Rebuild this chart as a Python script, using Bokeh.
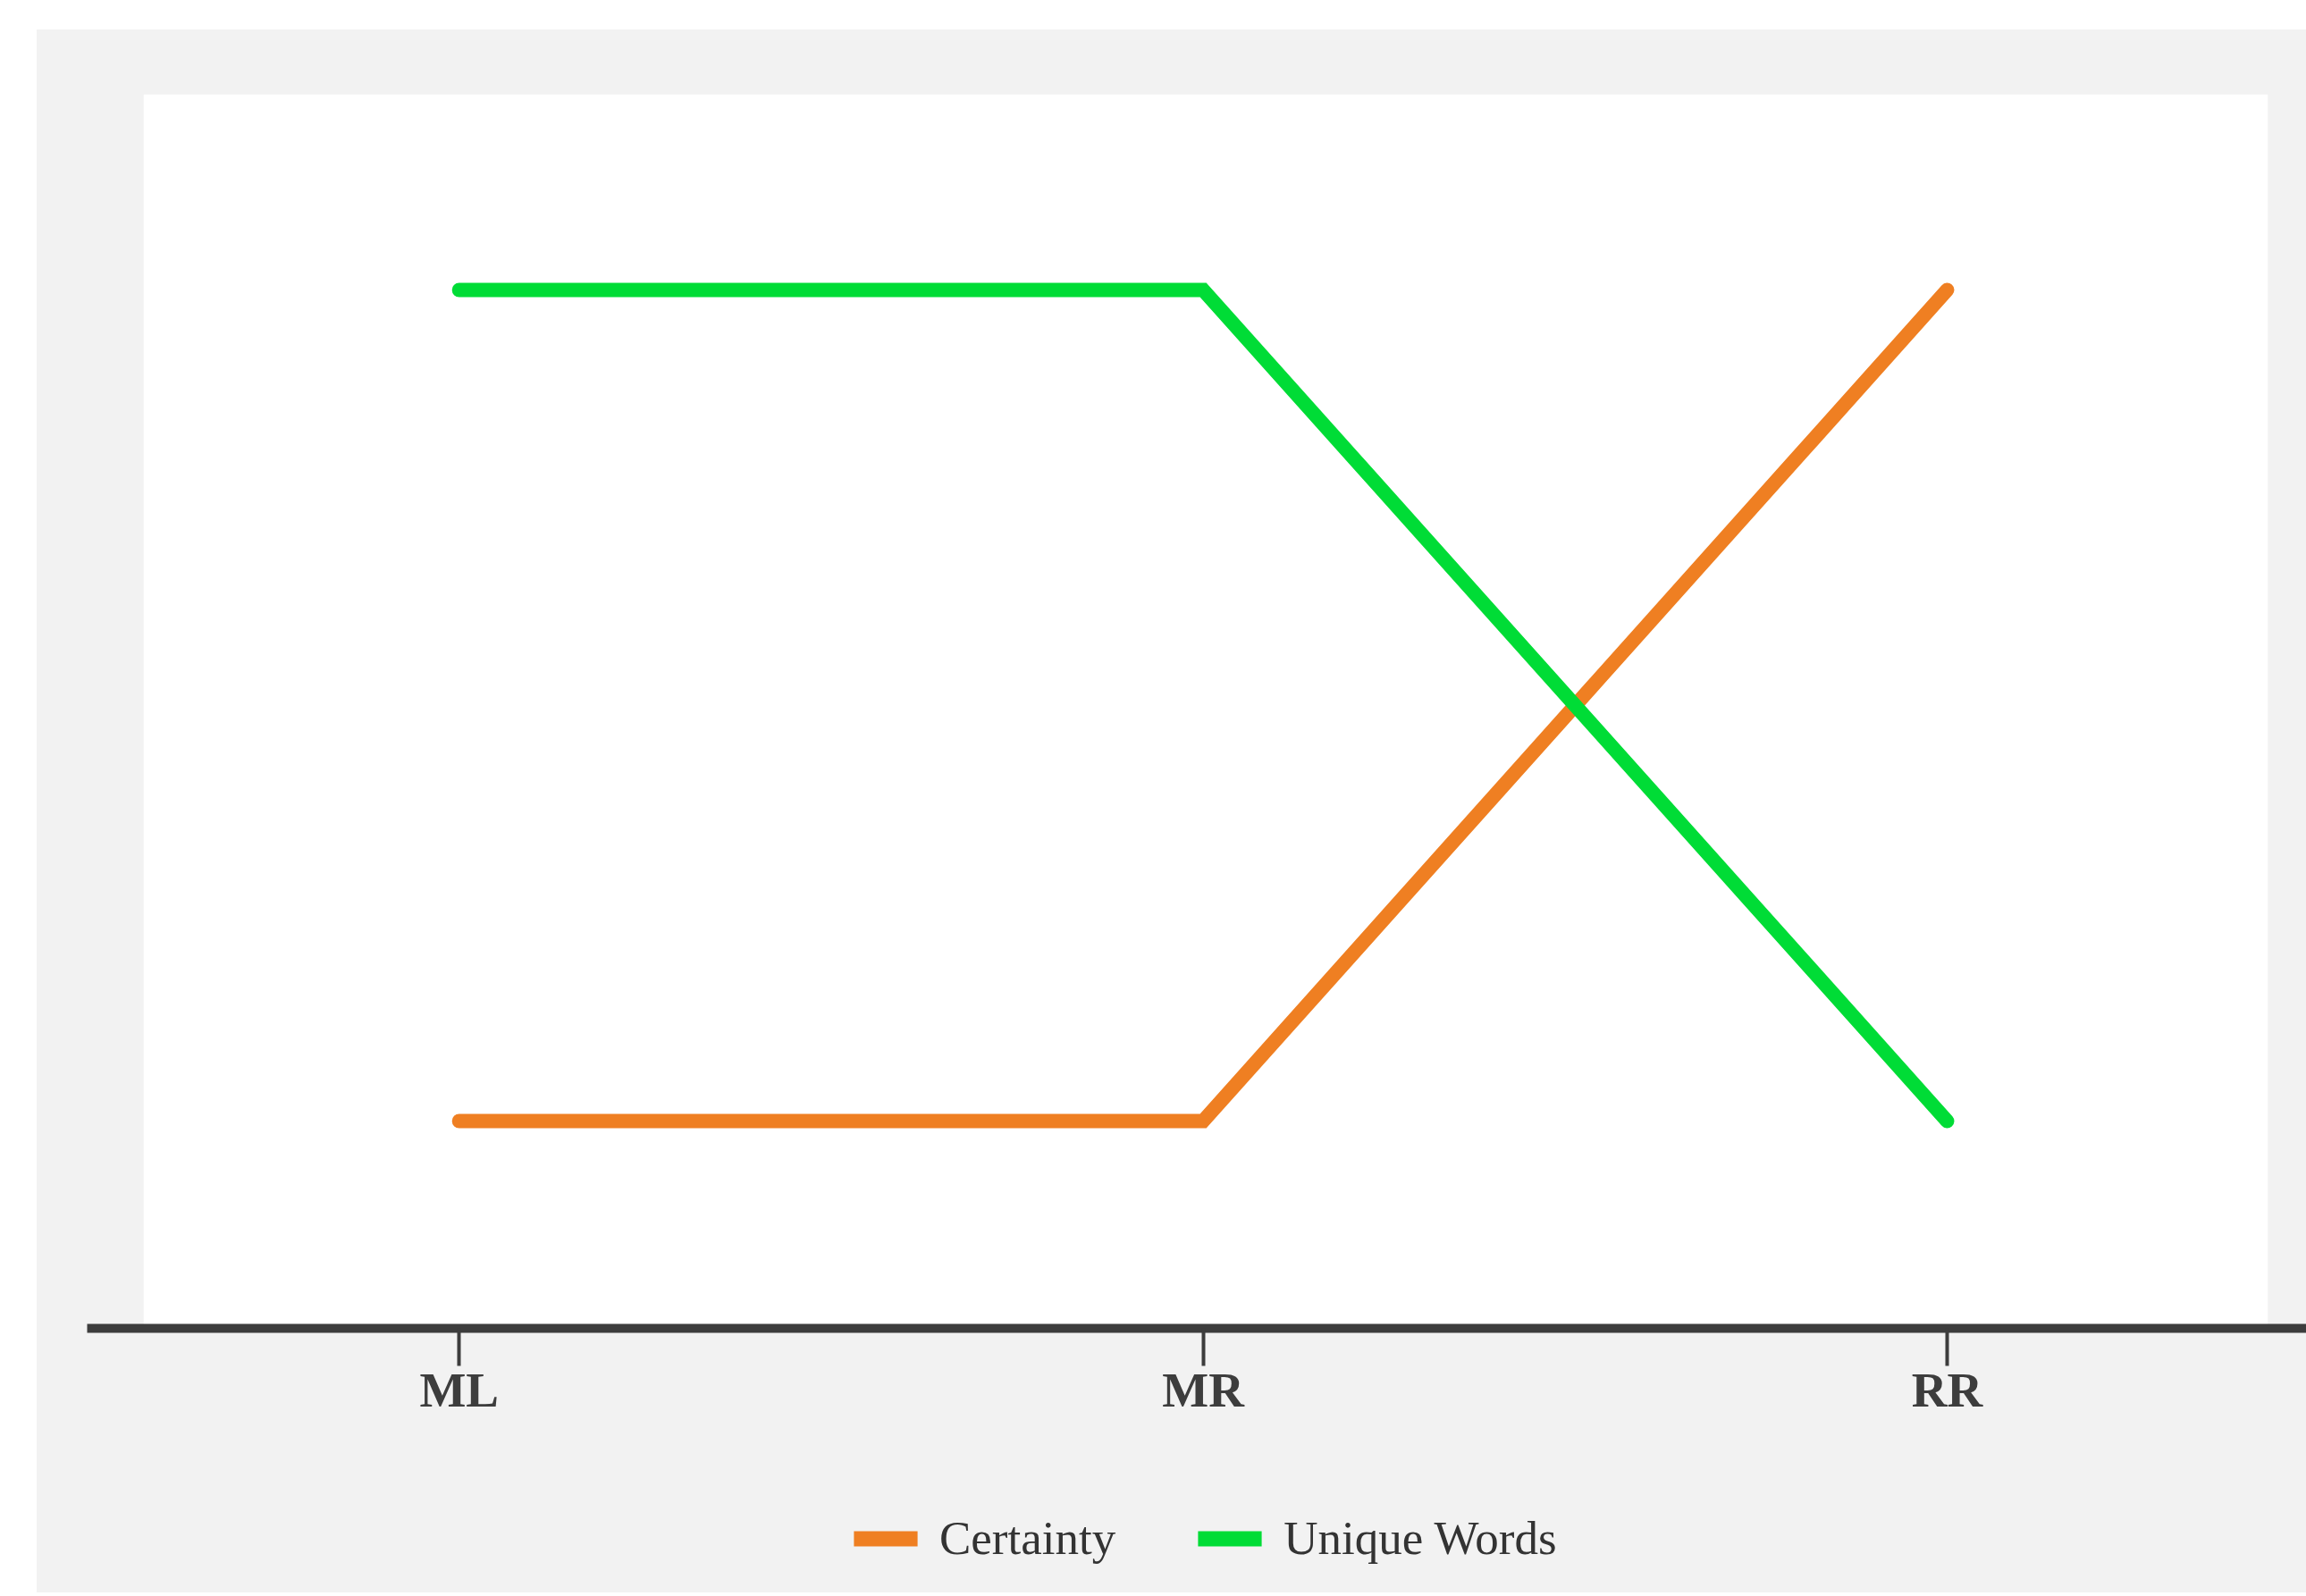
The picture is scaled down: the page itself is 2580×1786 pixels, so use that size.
from bokeh.plotting import figure
from bokeh.models import (Range1d, FixedTicker, BoxAnnotation, Legend, LegendItem,
                          ColumnDataSource, Spacer)
from bokeh.layouts import column, row
from bokeh.embed import file_html
from bokeh.resources import INLINE

# ---- data ----
categories = ["ML", "MR", "RR"]
certainty = [1, 1, 2]
unique_words = [2, 2, 1]
series_names = ["Certainty", "Unique Words"]
series_colors = ["#ef7f22", "#00dc36"]

x_pos = list(range(len(categories)))

BG = "#f2f2f2"
INK = "#3d3d3d"

p = figure(width=2539, height=1587,
           x_range=Range1d(-0.5, 2.483), y_range=Range1d(0.7505, 2.2355),
           output_backend="svg", toolbar_location=None,
           y_axis_location=None,
           min_border_left=56, min_border_right=0, min_border_top=72,
           min_border_bottom=134)
p.border_fill_color = BG
p.background_fill_color = BG
p.outline_line_color = None
p.xgrid.visible = False
p.ygrid.visible = False

# white plotting panel
panel = BoxAnnotation(left=-0.424, right=2.431, fill_color="white", fill_alpha=1.0,
                      line_color=None, level="underlay")
p.add_layout(panel)

src = ColumnDataSource(dict(x=x_pos, cert=certainty, uniq=unique_words))
r1 = p.line("x", "cert", source=src, line_color=series_colors[0], line_width=16,
            line_cap="round", line_join="miter")
r2 = p.line("x", "uniq", source=src, line_color=series_colors[1], line_width=16,
            line_cap="round", line_join="miter")

ax = p.xaxis[0]
ax.ticker = FixedTicker(ticks=x_pos)
ax.major_label_overrides = {i: c for i, c in zip(x_pos, categories)}
ax.axis_line_width = 10
ax.axis_line_color = INK
ax.major_tick_in = 0
ax.major_tick_out = 42
ax.major_tick_line_width = 4
ax.major_tick_line_color = INK
ax.minor_tick_line_color = None
ax.major_label_standoff = -4
ax.major_label_text_font = "Liberation Serif"
ax.major_label_text_font_style = "bold"
ax.major_label_text_font_size = "55px"
ax.major_label_text_color = INK

# ---- legend strip below the chart ----
lg = figure(width=2539, height=162, x_range=Range1d(0, 1), y_range=Range1d(0, 1),
            output_backend="svg", toolbar_location=None,
            x_axis_location=None, y_axis_location=None,
            min_border=0)
lg.border_fill_color = BG
lg.background_fill_color = BG
lg.outline_line_color = None
lg.xgrid.visible = False
lg.ygrid.visible = False

nan = float("nan")
e = ColumnDataSource(dict(l=[nan], r=[nan], b=[nan], t=[nan]))
q1 = lg.quad(left="l", right="r", bottom="b", top="t", source=e,
             fill_color=series_colors[0], line_color=None)
q2 = lg.quad(left="l", right="r", bottom="b", top="t", source=e,
             fill_color=series_colors[1], line_color=None)

legend = Legend(items=[LegendItem(label=series_names[0], renderers=[q1]),
                       LegendItem(label=series_names[1], renderers=[q2])],
                orientation="horizontal", location=(849, 31))
legend.background_fill_alpha = 0
legend.border_line_color = None
legend.glyph_width = 89
legend.glyph_height = 21
legend.label_standoff = 16
legend.spacing = 83
legend.label_text_font = "Liberation Serif"
legend.label_text_font_size = "53px"
legend.label_text_color = "#333333"
legend.margin = 0
legend.padding = 0
lg.add_layout(legend)

inner = column(p, lg, styles={"background-color": BG})
layout = column(Spacer(height=33), row(Spacer(width=41), inner))

open("out.html", "w").write(file_html(layout, INLINE))
